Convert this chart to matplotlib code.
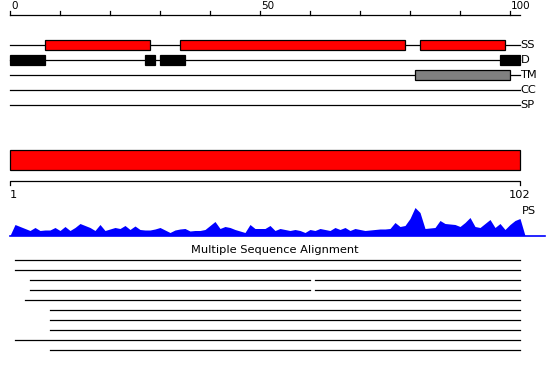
import matplotlib
matplotlib.use('Agg')
import matplotlib.pyplot as plt

# sequence length and feature tracks (positions on the 0..102 scale)
seq_len = 102
track_names = ['SS', 'D', 'TM', 'CC', 'SP']
ss_segments = [(7, 28), (34, 79), (82, 99)]
d_segments = [(0, 7), (27, 29), (30, 35), (98, 102)]
tm_segments = [(81, 100)]
cc_segments = []
sp_segments = []

top_ticks = [0, 10, 20, 30, 40, 50, 60, 70, 80, 90, 100]
top_tick_labels = {0: '0', 50: '50', 100: '100'}

# PS profile heights, one per position 0..103
ps_values = [0, 11, 9, 7, 5, 8, 5, 5.5, 5.5, 8,
             5, 9, 5, 8, 12, 10, 8, 5, 11, 5,
             6.5, 8, 7, 10, 6, 9.5, 6, 5.5, 5.5, 6.5,
             8, 5.5, 3, 5.5, 6.5, 7, 4.5, 5, 5, 6,
             10, 14, 7, 9, 8, 6, 4.5, 3, 11, 7,
             7, 7, 10, 5, 7, 6, 5, 6, 5, 3,
             6, 5, 7, 6, 5, 8, 6, 8, 5, 7,
             6, 5, 5.5, 6, 6.5, 6.5, 7, 13, 9, 10,
             17, 28, 23, 7, 7.5, 8, 15, 12, 11.5, 11,
             9, 13, 18, 9, 8, 12, 16, 8, 12, 6,
             11, 15, 17, 0]
ps_pos = list(range(len(ps_values)))

# multiple sequence alignment rows: (start, end) pieces
msa_rows = [
    [(1, 102)],
    [(1, 102)],
    [(4, 60), (61, 102)],
    [(4, 60), (61, 102)],
    [(3, 102)],
    [(8, 102)],
    [(8, 102)],
    [(8, 102)],
    [(1, 102)],
    [(8, 102)],
]

fig = plt.figure(figsize=(5.5, 3.8), dpi=100)
ax = fig.add_axes([0, 0, 1, 1])
ax.set_xlim(-2, 108)
ax.set_ylim(380, 0)
ax.axis('off')

fs = 7.5
fs_text = 8.2
lw = 0.9

# top ruler
ax.plot([0, seq_len], [15, 15], color='black', lw=lw)
for t in top_ticks:
    ax.plot([t, t], [10.5, 15], color='black', lw=lw)
    if t in top_tick_labels:
        ax.text(t + 0.2, 11, top_tick_labels[t], fontsize=fs, ha='left', va='bottom')

# feature tracks
track_y = [45, 60, 75, 90, 105]
segments = [ss_segments, d_segments, tm_segments, cc_segments, sp_segments]
colors = ['#ff0000', 'black', '#808080', 'white', 'white']
for name, y, segs, c in zip(track_names, track_y, segments, colors):
    ax.plot([0, seq_len], [y, y], color='black', lw=lw, zorder=1)
    for s, e in segs:
        ax.barh(y, e - s, left=s, height=10, color=c, edgecolor='black', linewidth=lw, zorder=2)
    ax.text(seq_len + 0.1, y, name, fontsize=fs_text, ha='left', va='center')

# full-length bar and its ruler
ax.barh(160, seq_len, left=0, height=20, color='#ff0000', edgecolor='black', linewidth=lw)
ax.plot([0, 0, seq_len, seq_len], [184.5, 180.5, 180.5, 184.5], color='black', lw=lw)
ax.text(0, 190.5, '1', fontsize=fs_text, ha='left', va='top')
ax.text(seq_len, 190.5, '102', fontsize=fs_text, ha='center', va='top')
ax.text(seq_len + 0.3, 205.5, 'PS', fontsize=fs_text, ha='left', va='top')

# PS profile
base = 235.5
ax.fill_between(ps_pos, [base] * len(ps_pos), [base - v for v in ps_values],
                color='#0000ff', lw=0)
ax.plot([0, 107], [base, base], color='#0000ff', lw=1.2)

# multiple sequence alignment
ax.text(53, 250, 'Multiple Sequence Alignment', fontsize=fs_text, ha='center', va='center')
for i, row in enumerate(msa_rows):
    y = 260 + 10 * i
    for s, e in row:
        ax.plot([s, e], [y, y], color='black', lw=lw)

fig.savefig('out.png', dpi=100)
